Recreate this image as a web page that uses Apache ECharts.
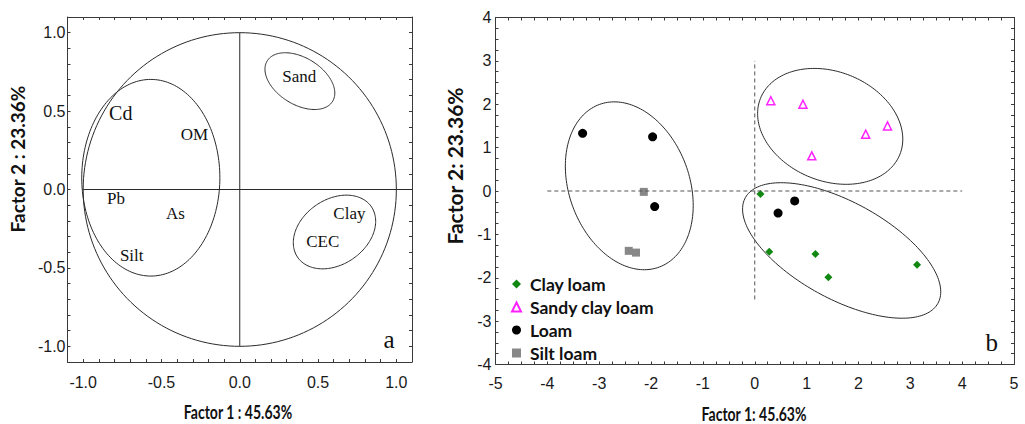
<!DOCTYPE html>
<html><head><meta charset="utf-8">
<script src="https://cdn.jsdelivr.net/npm/echarts@6/dist/echarts.min.js"></script>
<style>html,body{margin:0;padding:0;background:#fff}#c{width:1025px;height:424px}</style>
</head><body><div id="c"></div>
<script>
// ---- Panel a: factor loadings ----
const loadingVars = ['Cd', 'OM', 'Pb', 'As', 'Silt', 'Sand', 'Clay', 'CEC'];
const loadingX = [-0.76, -0.29, -0.79, -0.41, -0.69, 0.38, 0.70, 0.53];
const loadingY = [0.49, 0.35, -0.06, -0.15, -0.42, 0.72, -0.15, -0.33];
// ellipses: [centerX, centerY, halfWidth, halfHeight, correlation]
const loadingEllipses = [[0, 0, 1, 1, 0], [-0.568, 0.075, 0.441, 0.627, 0], [0.384, 0.691, 0.223, 0.181, -0.42], [0.605, -0.271, 0.263, 0.235, 0.29]];
const loadingRefH = [[-1, 0], [1.1, 0]];
const loadingRefV = [[0, -1], [0, 1]];
const loadingTicks = [-1.0, -0.5, 0.0, 0.5, 1.0];

// ---- Panel b: factor scores by texture class ----
const seriesNames = ['Clay loam', 'Sandy clay loam', 'Loam', 'Silt loam'];
const clayLoam = [[0.11, -0.07], [0.28, -1.40], [1.17, -1.45], [1.42, -1.99], [3.13, -1.70]];
const sandyClayLoam = [[0.31, 2.08], [0.93, 2.00], [1.10, 0.81], [2.14, 1.31], [2.56, 1.50]];
const loam = [[-3.32, 1.33], [-1.97, 1.25], [-1.93, -0.36], [0.45, -0.51], [0.77, -0.23]];
const siltLoam = [[-2.14, -0.02], [-2.43, -1.38], [-2.29, -1.42]];
const scoreEllipses = [[-2.42, 0.12, 1.233, 1.935, -0.234], [1.455, 1.49, 1.40, 1.336, -0.22], [1.676, -1.371, 1.911, 1.562, -0.61]];
const scoreRefH = [[-4, 0], [4, 0]];
const scoreRefV = [[0, -2.5], [0, 3]];
const scoreTicks = [-5, -4, -3, -2, -1, 0, 1, 2, 3, 4, 5];

const chart = echarts.init(document.getElementById('c'), null, {renderer: 'svg'});

function ellipseRender(params, api) {
  const cx = api.value(0), cy = api.value(1), sx = api.value(2), sy = api.value(3), r = api.value(4);
  const k = Math.sqrt(1 - r * r);
  const pts = [];
  for (let i = 0; i <= 180; i++) {
    const t = i / 180 * 2 * Math.PI;
    pts.push(api.coord([cx + sx * Math.cos(t), cy + sy * (r * Math.cos(t) + k * Math.sin(t))]));
  }
  return {type: 'polyline', shape: {points: pts}, style: {stroke: '#2a2a2a', lineWidth: 1, fill: null}};
}

const axisColor = '#3a3a3a';
const labelStyle = {fontFamily: 'Liberation Sans', fontSize: 16, color: '#1a1a1a'};
function mkAxis(dim, grid, pos, min, max, interval, majors, showLabel, margin) {
  return {
    type: 'value', gridIndex: grid, position: pos, min: min, max: max, interval: interval,
    axisLine: {show: true, onZero: false, lineStyle: {color: axisColor, width: 1}},
    axisTick: {show: true, inside: true, length: 3, interval: 0, lineStyle: {color: axisColor}},
    splitLine: {show: false},
    axisLabel: Object.assign({
      show: showLabel, interval: 0, margin: margin,
      formatter: function (v) {
        for (const m of majors) { if (Math.abs(v - m) < 1e-6) return (interval < 0.2 ? m.toFixed(1) : String(m)); }
        return '';
      }
    }, labelStyle)
  };
}

const serif = 'Liberation Serif';
const labelData = loadingVars.map((n, i) => ({
  name: n, value: [loadingX[i], loadingY[i]],
  label: {fontSize: n === 'Cd' ? 20 : 17}
}));
const hidden = {color: 'rgba(0,0,0,0)', opacity: 1};

const option = {
  animation: false,
  backgroundColor: '#fff',
  grid: [
    {left: 67.5, top: 17, width: 344.5, height: 345},
    {left: 495.5, top: 17.5, width: 518.5, height: 347}
  ],
  xAxis: [
    mkAxis('x', 0, 'bottom', -1.1, 1.1, 0.1, loadingTicks, true, 12),
    mkAxis('x', 0, 'top', -1.1, 1.1, 0.1, loadingTicks, false, 8),
    mkAxis('x', 1, 'bottom', -5, 5, 0.25, scoreTicks, true, 11),
    mkAxis('x', 1, 'top', -5, 5, 0.25, scoreTicks, false, 8)
  ],
  yAxis: [
    mkAxis('y', 0, 'left', -1.1, 1.1, 0.1, loadingTicks, true, 2),
    mkAxis('y', 0, 'right', -1.1, 1.1, 0.1, loadingTicks, false, 8),
    mkAxis('y', 1, 'left', -4, 4, 0.25, [-4, -3, -2, -1, 0, 1, 2, 3, 4], true, 4),
    mkAxis('y', 1, 'right', -4, 4, 0.25, [], false, 8)
  ],
  legend: {
    data: [
      {name: 'Clay loam', icon: 'diamond'},
      {name: 'Sandy clay loam', icon: 'triangle'},
      {name: 'Loam', icon: 'circle'},
      {name: 'Silt loam', icon: 'rect'}
    ],
    orient: 'vertical', left: 511, top: 275, padding: 0, itemWidth: 9, itemHeight: 9, itemGap: 5,
    selectedMode: false,
    textStyle: {fontFamily: 'Lato', fontWeight: 'bold', fontSize: 17.5, color: '#111', padding: [0, 0, 0, 4]}
  },
  graphic: [
    {type: 'text', x: 238, y: 412, scaleX: 0.78, style: {text: 'Factor 1 : 45.63%', font: 'bold 18px Lato', fill: '#111', align: 'center', verticalAlign: 'middle'}},
    {type: 'text', x: 17.5, y: 159, rotation: Math.PI / 2, style: {text: 'Factor 2 : 23.36%', font: 'bold 19px Lato', fill: '#111', align: 'center', verticalAlign: 'middle'}},
    {type: 'text', x: 754, y: 414, scaleX: 0.78, style: {text: 'Factor 1: 45.63%', font: 'bold 18px Lato', fill: '#111', align: 'center', verticalAlign: 'middle'}},
    {type: 'text', x: 454, y: 166, rotation: Math.PI / 2, style: {text: 'Factor 2: 23.36%', font: 'bold 21px Lato', fill: '#111', align: 'center', verticalAlign: 'middle'}}
  ],
  series: [
    // panel a
    {type: 'custom', xAxisIndex: 0, yAxisIndex: 0, renderItem: ellipseRender, data: loadingEllipses, silent: true},
    {type: 'line', xAxisIndex: 0, yAxisIndex: 0, data: loadingRefH, symbol: 'none', lineStyle: {color: '#2a2a2a', width: 1}, silent: true},
    {type: 'line', xAxisIndex: 0, yAxisIndex: 0, data: loadingRefV, symbol: 'none', lineStyle: {color: '#2a2a2a', width: 1}, silent: true},
    {type: 'scatter', xAxisIndex: 0, yAxisIndex: 0, data: labelData, symbolSize: 1, itemStyle: hidden,
      label: {show: true, position: 'inside', formatter: '{b}', fontFamily: serif, fontSize: 17, color: '#111', opacity: 1}},
    {type: 'scatter', xAxisIndex: 0, yAxisIndex: 0, data: [{name: 'a', value: [0.953, -0.957]}], symbolSize: 1, itemStyle: hidden,
      label: {show: true, position: 'inside', formatter: '{b}', fontFamily: serif, fontSize: 25, color: '#111', opacity: 1}},
    // panel b
    {type: 'custom', xAxisIndex: 2, yAxisIndex: 2, renderItem: ellipseRender, data: scoreEllipses, silent: true},
    {type: 'line', xAxisIndex: 2, yAxisIndex: 2, data: scoreRefH, symbol: 'none', lineStyle: {color: '#555', width: 1, type: [4, 3]}, silent: true},
    {type: 'line', xAxisIndex: 2, yAxisIndex: 2, data: scoreRefV, symbol: 'none', lineStyle: {color: '#555', width: 1, type: [4, 3]}, silent: true},
    {name: seriesNames[0], type: 'scatter', xAxisIndex: 2, yAxisIndex: 2, data: clayLoam, symbol: 'diamond', symbolSize: 8, itemStyle: {color: '#118811', opacity: 1}},
    {name: seriesNames[1], type: 'scatter', xAxisIndex: 2, yAxisIndex: 2, data: sandyClayLoam, symbol: 'triangle', symbolSize: 8, itemStyle: {color: '#fff', borderColor: '#ff22ff', borderWidth: 1.5, opacity: 1}},
    {name: seriesNames[2], type: 'scatter', xAxisIndex: 2, yAxisIndex: 2, data: loam, symbol: 'circle', symbolSize: 9, itemStyle: {color: '#000', opacity: 1}},
    {name: seriesNames[3], type: 'scatter', xAxisIndex: 2, yAxisIndex: 2, data: siltLoam, symbol: 'rect', symbolSize: 8, itemStyle: {color: '#888', opacity: 1}},
    {type: 'scatter', xAxisIndex: 2, yAxisIndex: 2, data: [{name: 'b', value: [4.57, -3.5]}], symbolSize: 1, itemStyle: hidden,
      label: {show: true, position: 'inside', formatter: '{b}', fontFamily: serif, fontSize: 25, color: '#111', opacity: 1}}
  ]
};
chart.setOption(option);
</script>
</body></html>
